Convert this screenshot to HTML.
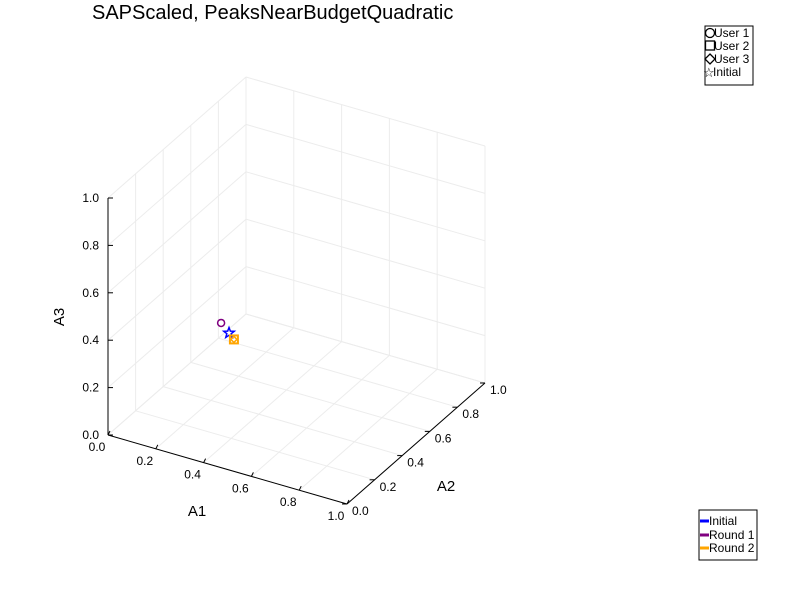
<!DOCTYPE html>
<html><head><meta charset="utf-8"><style>body{margin:0;background:#fff}svg text{font-family:"Liberation Sans","DejaVu Sans",sans-serif}</style></head>
<body>
<svg id="chart" width="800" height="600" viewBox="0 0 800 600" xmlns="http://www.w3.org/2000/svg">
<rect width="800" height="600" fill="#fff"/>
<text x="92" y="19" font-size="20">SAPScaled, PeaksNearBudgetQuadratic</text>
<g id="grid"></g><g id="axes"></g><g id="marks"></g>
<text x="197" y="516" font-size="15" text-anchor="middle">A1</text>
<text x="446" y="491" font-size="15" text-anchor="middle">A2</text>
<text transform="translate(64,317) rotate(-90)" font-size="15" text-anchor="middle">A3</text>
<g>
<rect x="705" y="26" width="48" height="59" fill="#fff" stroke="#000" stroke-width="1"/>
<circle cx="710" cy="33" r="4.5" fill="none" stroke="#000" stroke-width="1.3"/><text x="714" y="37" font-size="12">User 1</text>
<rect x="705.5" y="41" width="9" height="9" fill="none" stroke="#000" stroke-width="1.3"/><text x="714" y="50" font-size="12">User 2</text>
<path d="M710 54 L715 59 L710 64 L705 59 Z" fill="none" stroke="#000" stroke-width="1.3"/><text x="714" y="63" font-size="12">User 3</text>
<text x="703" y="77" font-size="13">☆</text><text x="713" y="76" font-size="12">Initial</text>
</g>
<g>
<rect x="699" y="510" width="58" height="50" fill="#fff" stroke="#000" stroke-width="1"/>
<line x1="700" y1="521" x2="709" y2="521" stroke="#0000ff" stroke-width="3"/><text x="709" y="525" font-size="12">Initial</text>
<line x1="700" y1="535" x2="709" y2="535" stroke="#800080" stroke-width="3"/><text x="709" y="539" font-size="12">Round 1</text>
<line x1="700" y1="548" x2="709" y2="548" stroke="#ffa500" stroke-width="3"/><text x="709" y="552" font-size="12">Round 2</text>
</g>
</svg>
<script>
const ticks=[0,0.2,0.4,0.6,0.8,1.0];
const tickLabels=["0.0","0.2","0.4","0.6","0.8","1.0"];
const ptA1=[0.30,0.321,0.334,0.334];
const ptA2=[0.30,0.321,0.334,0.334];
const ptA3=[0.407,0.36,0.33,0.33];
const ptColor=["#800080","#0000ff","#ffa500","#ffa500"];
const ptShape=["circle","star","square","diamond"];
const NS="http://www.w3.org/2000/svg";
function P(a,b,c){return [108+239*a+138*b, 435+69*a-121*b-237*c];}
function el(g,t,at){const e=document.createElementNS(NS,t);for(const k in at)e.setAttribute(k,at[k]);document.getElementById(g).appendChild(e);return e;}
function ln(g,p,q,s,w,name){const e=el(g,'line',{x1:p[0],y1:p[1],x2:q[0],y2:q[1],stroke:s,'stroke-width':w});

}
const gc="#ececec";
ticks.forEach(t=>{
 ln('grid',P(t,0,0),P(t,1,0),gc,1,'floor-grid-a1');
 ln('grid',P(0,t,0),P(1,t,0),gc,1,'floor-grid-a2');
 ln('grid',P(t,1,0),P(t,1,1),gc,1,'back-grid-a1');
 ln('grid',P(0,1,t),P(1,1,t),gc,1,'back-grid-a3');
 ln('grid',P(0,t,0),P(0,t,1),gc,1,'side-grid-a2');
 ln('grid',P(0,0,t),P(0,1,t),gc,1,'side-grid-a3');
});
ln('axes',P(0,0,0),P(1,0,0),'#000',1,'x-axis');
ln('axes',P(1,0,0),P(1,1,0),'#000',1,'y-axis');
ln('axes',P(0,0,0),P(0,0,1),'#000',1,'z-axis');
ticks.forEach((t,i)=>{
 let p=P(t,0,0);ln('axes',p,[p[0]+2,p[1]-4],'#000',1,'x-tick');
 let e=el('axes','text',{x:p[0]-11,y:p[1]+16,'font-size':12,'text-anchor':'middle'});e.textContent=tickLabels[i];
 
 
 p=P(1,t,0);ln('axes',p,[p[0]-5,p[1]],'#000',1,'y-tick');
 e=el('axes','text',{x:p[0]+5,y:p[1]+11,'font-size':12});e.textContent=tickLabels[i];
 
 
 p=P(0,0,t);ln('axes',p,[p[0]+5,p[1]],'#000',1,'z-tick');
 e=el('axes','text',{x:p[0]-9,y:p[1]+4,'font-size':12,'text-anchor':'end'});e.textContent=tickLabels[i];
 
 
});
ptA1.forEach((a,i)=>{
 const p=P(a,ptA2[i],ptA3[i]);const c=ptColor[i];let e;
 if(ptShape[i]=='circle')e=el('marks','circle',{cx:p[0],cy:p[1],r:3.5,fill:'none',stroke:c,'stroke-width':1.5});
 else if(ptShape[i]=='square')e=el('marks','rect',{x:p[0]-4,y:p[1]-4,width:8,height:8,fill:'none',stroke:c,'stroke-width':2});
 else if(ptShape[i]=='diamond')e=el('marks','path',{d:`M${p[0]} ${p[1]-3}L${p[0]+3} ${p[1]}L${p[0]} ${p[1]+3}L${p[0]-3} ${p[1]}Z`,fill:'none',stroke:c,'stroke-width':1.5});
 else{let d='';for(let k=0;k<10;k++){const r=k%2?2.3:5.5,an=-Math.PI/2+k*Math.PI/5;d+=(k?'L':'M')+(p[0]+r*Math.cos(an))+' '+(p[1]+r*Math.sin(an));}
  e=el('marks','path',{d:d+'Z',fill:'none',stroke:c,'stroke-width':1.5});}
 
 
});
</script>
</body></html>
